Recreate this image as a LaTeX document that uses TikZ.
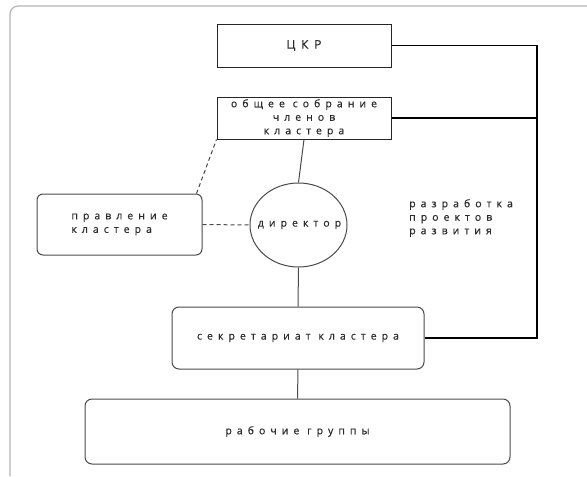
\documentclass[tikz,border=0pt]{standalone}
\usepackage{fontspec}
\setmainfont{Open Sans}
\newfontfamily\spfont[LetterSpace=48,FakeBold=0.4]{Open Sans}
\usetikzlibrary{shapes.geometric}
\definecolor{framegray}{HTML}{B4B4B4}
\definecolor{linegray}{HTML}{4A4A4A}
\definecolor{txtgray}{HTML}{2A2A2A}
\tikzset{
  lbl/.style={font=\spfont\fontsize{10.5}{13.5}\selectfont, text=txtgray, inner sep=0pt},
  sharpbox/.style={draw=black!85, line width=1pt, rectangle, lbl},
  roundbox/.style={draw=linegray, line width=1pt, rectangle, rounded corners=7, lbl},
  ovalbox/.style={draw=linegray, line width=1pt, ellipse, lbl},
  thinlink/.style={draw=linegray, line width=1pt},
  dashlink/.style={draw=linegray, line width=1pt, dashed, dash pattern=on 4pt off 3pt},
  thicklink/.style={draw=black, line width=1.7pt}
}
\begin{document}
\begin{tikzpicture}[x=1pt,y=-1pt]
\useasboundingbox (0,0) rectangle (587,477);
% frame
\draw[framegray, line width=1.2pt, rounded corners=8] (10,476) -- (10,6) -- (587,6);
% nodes
\node[sharpbox, minimum width=174, minimum height=43, font=\spfont\fontsize{12}{13.5}\selectfont] (ckr) at (304,45.5) {ЦКР};
\node[sharpbox, minimum width=174, minimum height=42, align=center] (gen) at (304,118) {общее собрание\\членов\\кластера};
\node[ovalbox, minimum width=97, minimum height=84, inner sep=0pt] (dir) at (298.5,225) {\makebox[0pt]{\hspace{2pt}директор}};
\node[roundbox, rounded corners=6, minimum width=165, minimum height=61, align=left] (board) at (119.5,224.5) {правление\\кластера};
\node[roundbox, minimum width=252, minimum height=62] (sec) at (298,338) {секретариат кластера};
\node[roundbox, minimum width=425, minimum height=65] (work) at (297.5,431.5) {рабочие группы};
\node[lbl, align=left, anchor=north west] (dev) at (409,199) {разработка\\проектов\\развития};
\coordinate (rt) at (537,0);
% connectors
\draw[thinlink] (gen.south) -- (dir.north);
\draw[thinlink] (dir.south) -- (sec.north);
\draw[thinlink] (sec.south) -- (work.north);
\draw[dashlink] (board.east) -- (dir.west);
\draw[dashlink] ([xshift=-6pt]board.north east) -- (gen.south west);
\draw[thicklink] (ckr.east) -| (rt |- sec.east) -- (sec.east);
\draw[thicklink] (gen.east) -- (gen.east -| rt);
\end{tikzpicture}
\end{document}
